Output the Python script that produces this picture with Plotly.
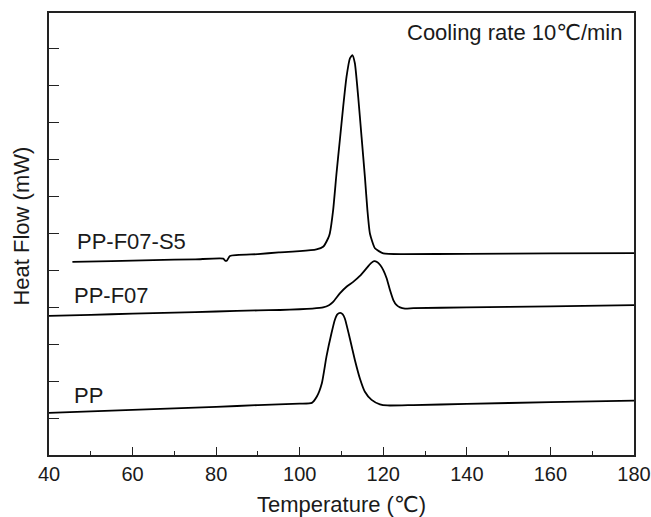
import plotly.graph_objects as go

# ---- data ----
pp_T = [40, 50, 60, 70, 80, 90, 100, 102.9, 104.1, 105.3, 106.4, 107.6, 108.4, 109.0, 109.7,
        110.3, 110.8, 112.0, 113.2, 114.4, 115.6, 117.2, 119.2, 121, 127.2, 140, 160, 180]
pp_Y = [1.14, 1.18, 1.22, 1.26, 1.30, 1.35, 1.39, 1.41, 1.58, 1.94, 2.66, 3.29, 3.65, 3.80, 3.84,
        3.80, 3.69, 3.15, 2.57, 2.07, 1.71, 1.49, 1.37, 1.34, 1.35, 1.38, 1.43, 1.47]

f07_T = [40, 50, 60, 70, 80, 90, 95.3, 100, 103, 105.6, 107, 108.0, 109.6, 111.2, 112.8, 114.4,
         116.0, 117.0, 117.8, 118.6, 119.3, 120.0, 120.8, 121.6, 122.4, 123.2, 124.0,
         125.2, 127.2, 140, 160, 180]
f07_Y = [3.76, 3.79, 3.82, 3.85, 3.88, 3.91, 3.92, 3.94, 3.96, 3.99, 4.05, 4.14, 4.37, 4.55, 4.68,
         4.84, 5.05, 5.18, 5.24, 5.21, 5.13, 5.00, 4.78, 4.46, 4.19, 4.05, 3.99, 3.96, 3.97,
         3.99, 4.02, 4.05]

s5_T = [45.6, 55, 65, 75, 81.7, 82.2, 82.6, 83.3, 90, 95, 100, 104, 105.6, 106.8, 107.2, 108.0,
        108.8, 109.6, 110.4, 111.2, 112.0, 112.6, 113.2, 114.0, 114.8, 115.6, 116.2, 116.8, 118.0,
        120.0, 125, 140, 160, 180]
s5_Y = [5.22, 5.24, 5.27, 5.29, 5.31, 5.25, 5.26, 5.38, 5.43, 5.48, 5.51, 5.56, 5.63, 5.86, 5.99,
        6.62, 7.61, 8.51, 9.41, 10.22, 10.72, 10.81, 10.59, 9.68, 8.60, 7.52, 6.62, 5.99, 5.59,
        5.45, 5.43, 5.44, 5.45, 5.46]

series = [("PP", pp_T, pp_Y), ("PP-F07", f07_T, f07_Y), ("PP-F07-S5", s5_T, s5_Y)]

label_names = ["PP-F07-S5", "PP-F07", "PP"]
label_T = [46.2, 45.5, 45.5]
label_Y = [5.78, 4.32, 1.62]

x_ticks = [40, 60, 80, 100, 120, 140, 160, 180]
y_ticks = [1, 2, 3, 4, 5, 6, 7, 8, 9, 10, 11]

FONT = "Liberation Sans, Arial, DejaVu Sans, sans-serif"
INK = "#1a1a1a"

fig = go.Figure()
for name, t, y in series:
    fig.add_trace(go.Scatter(x=t, y=y, mode="lines", name=name,
                             line=dict(color="black", width=1.8, shape="spline", smoothing=0.5),
                             showlegend=False, hoverinfo="skip"))

for name, t, y in zip(label_names, label_T, label_Y):
    fig.add_annotation(x=t, y=y, xref="x", yref="y", text=name, showarrow=False,
                       xanchor="left", yanchor="middle",
                       font=dict(family=FONT, size=22, color=INK))

fig.add_annotation(x=0.983, y=0.955, xref="paper", yref="paper",
                   text="Cooling rate 10℃/min", showarrow=False,
                   xanchor="right", yanchor="middle",
                   font=dict(family=FONT, size=22, color=INK))

# axis titles placed as annotations for exact positioning
fig.add_annotation(x=0.5, y=-0.113, xref="paper", yref="paper",
                   text="Temperature (℃)", showarrow=False,
                   xanchor="center", yanchor="middle",
                   font=dict(family=FONT, size=22, color=INK))
fig.add_annotation(x=-0.047, y=0.518, xref="paper", yref="paper",
                   text="Heat Flow (mW)", showarrow=False, textangle=-90,
                   xanchor="center", yanchor="middle",
                   font=dict(family=FONT, size=22, color=INK))

fig.update_layout(
    width=651, height=517,
    margin=dict(l=49, r=17, t=13, b=62, autoexpand=False),
    paper_bgcolor="white", plot_bgcolor="white",
    font=dict(family=FONT, size=20, color=INK),
)
fig.update_xaxes(range=[40, 180], tickvals=x_ticks, ticks="inside", ticklen=8, tickwidth=1.3,
                 tickcolor="#222", showline=True, linecolor="#222", linewidth=1.5, mirror=True,
                 showgrid=False, zeroline=False, automargin=False, ticklabeloverflow="allow",
                 minor=dict(dtick=10, ticks="inside", ticklen=4, tickwidth=1.2, tickcolor="#222"),
                 tickfont=dict(family=FONT, size=20, color=INK))
fig.update_yaxes(range=[0, 11.95], tickvals=y_ticks, showticklabels=False, ticks="inside",
                 ticklen=10, tickwidth=1.3, tickcolor="#222", showline=True, linecolor="#222",
                 linewidth=1.5, mirror=True, showgrid=False, zeroline=False, automargin=False)

fig.write_html("out.html", config={"displayModeBar": False},
               post_script="document.body.style.margin='0';")
